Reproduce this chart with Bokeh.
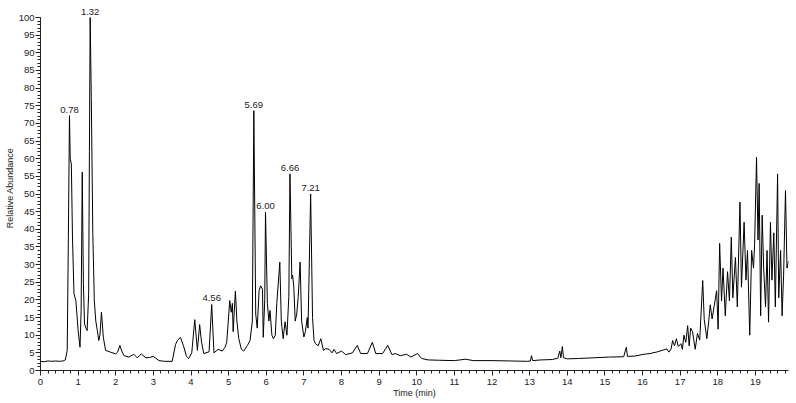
from bokeh.plotting import figure
from bokeh.models import ColumnDataSource, LabelSet, FixedTicker, Range1d
from bokeh.core.properties import value
from bokeh.embed import file_html
from bokeh.resources import INLINE

# ---- data ----
time_min = [
    0.00, 0.10, 0.20, 0.30, 0.40, 0.50, 0.60, 0.66, 0.71, 0.74, 0.77, 0.79, 0.82, 0.85, 0.89,
    0.94, 1.00, 1.05, 1.08, 1.11, 1.14, 1.17, 1.21, 1.24, 1.28, 1.30, 1.32, 1.35, 1.39, 1.43,
    1.47, 1.51, 1.55, 1.58, 1.62, 1.67, 1.73, 1.86, 2.00, 2.05, 2.11, 2.16, 2.22, 2.35, 2.48,
    2.57, 2.68, 2.80, 2.90, 3.00, 3.15, 3.30, 3.50, 3.59, 3.64, 3.72, 3.80, 3.88, 3.94, 4.02,
    4.10, 4.17, 4.23, 4.28, 4.34, 4.48, 4.55, 4.61, 4.72, 4.83, 4.90, 4.95, 5.03, 5.07, 5.10,
    5.12, 5.18, 5.22, 5.27, 5.34, 5.40, 5.50, 5.57, 5.63, 5.67, 5.72, 5.76, 5.81, 5.85, 5.90,
    5.92, 5.96, 5.98, 6.03, 6.07, 6.10, 6.15, 6.19, 6.24, 6.28, 6.36, 6.40, 6.45, 6.50, 6.55,
    6.60, 6.63, 6.68, 6.70, 6.73, 6.77, 6.81, 6.85, 6.90, 6.94, 7.00, 7.04, 7.09, 7.11, 7.18,
    7.23, 7.27, 7.31, 7.38, 7.45, 7.52, 7.58, 7.67, 7.75, 7.80, 7.87, 8.00, 8.11, 8.29, 8.42,
    8.51, 8.69, 8.82, 8.91, 9.09, 9.23, 9.34, 9.43, 9.56, 9.73, 9.84, 10.02, 10.13, 10.30, 10.60,
    11.00, 11.30, 11.50, 12.00, 12.50, 12.94, 13.02, 13.05, 13.08, 13.30, 13.60, 13.75, 13.80, 13.83, 13.87,
    13.90, 14.00, 14.30, 14.70, 15.10, 15.50, 15.57, 15.60, 15.80, 16.04, 16.20, 16.40, 16.55, 16.65, 16.70,
    16.76, 16.80, 16.85, 16.90, 16.95, 17.02, 17.06, 17.10, 17.15, 17.20, 17.24, 17.28, 17.33, 17.40, 17.46,
    17.52, 17.60, 17.64, 17.71, 17.76, 17.80, 17.85, 17.90, 17.97, 18.01, 18.05, 18.10, 18.14, 18.20, 18.26,
    18.31, 18.36, 18.40, 18.47, 18.52, 18.59, 18.63, 18.70, 18.75, 18.79, 18.85, 18.90, 18.95, 18.98, 19.03,
    19.07, 19.10, 19.14, 19.18, 19.22, 19.27, 19.31, 19.35, 19.40, 19.44, 19.49, 19.53, 19.59, 19.62, 19.67,
    19.71, 19.75, 19.80, 19.84, 19.88,
]
rel_abundance = [
    2.6, 2.5, 2.7, 2.6, 2.7, 2.6, 2.7, 3.0, 5.7, 37.0, 72.2, 60.0, 58.5, 37.8, 21.7,
    19.8, 11.3, 6.6, 17.0, 56.2, 24.6, 13.2, 12.0, 11.3, 21.7, 62.0, 100.0, 77.4, 38.8, 19.8,
    14.0, 11.3, 8.5, 10.0, 16.5, 9.4, 5.7, 5.2, 4.7, 5.2, 7.1, 5.5, 4.2, 3.8, 4.6,
    3.6, 4.7, 3.6, 3.7, 4.0, 2.8, 2.6, 2.6, 7.4, 8.5, 9.4, 7.0, 4.0, 3.4, 5.0,
    14.4, 5.7, 13.0, 8.0, 4.8, 5.3, 18.7, 5.0, 6.0, 5.5, 6.5, 8.0, 19.8, 16.5, 19.0,
    11.0, 22.5, 14.0, 9.0, 6.0, 5.5, 7.1, 8.5, 14.0, 73.6, 16.0, 12.0, 22.6, 24.0, 23.0,
    9.4, 20.0, 44.8, 19.0, 14.0, 17.0, 10.0, 9.0, 10.0, 19.0, 30.7, 14.0, 9.0, 13.8, 10.0,
    21.0, 55.7, 26.0, 27.0, 24.0, 14.0, 16.0, 21.0, 30.7, 14.0, 9.5, 11.0, 15.0, 12.0, 50.0,
    15.0, 8.5, 7.6, 7.0, 9.0, 5.7, 6.2, 6.0, 5.0, 6.0, 4.8, 5.5, 4.5, 5.0, 7.1,
    4.8, 4.8, 8.0, 4.8, 4.8, 7.1, 4.5, 4.8, 4.2, 4.6, 3.8, 4.8, 3.4, 3.0, 2.9,
    2.8, 3.2, 2.8, 2.8, 2.7, 2.6, 2.7, 4.2, 2.8, 3.0, 3.1, 3.5, 5.5, 3.6, 6.8,
    3.6, 3.3, 3.4, 3.6, 3.8, 3.9, 6.6, 4.0, 4.1, 4.6, 4.8, 5.3, 5.8, 6.1, 5.2,
    6.1, 8.5, 7.0, 9.0, 6.8, 7.6, 6.0, 10.0, 8.0, 12.7, 7.0, 12.0, 11.0, 6.0, 10.5,
    8.6, 25.5, 14.5, 9.0, 14.0, 18.6, 14.6, 18.0, 22.6, 11.7, 36.0, 19.7, 29.0, 15.5, 28.0,
    19.7, 37.8, 20.6, 32.0, 18.0, 47.7, 23.6, 42.0, 25.6, 34.0, 10.0, 34.0, 29.0, 36.0, 60.4,
    37.0, 53.0, 15.5, 44.0, 29.0, 18.0, 34.0, 13.7, 42.0, 25.6, 39.0, 18.0, 55.7, 20.6, 34.0,
    15.5, 27.0, 51.0, 29.0, 31.0,
]

peak_times = [0.77, 1.32, 4.55, 5.67, 5.98, 6.63, 7.18]
peak_labels = ["0.78", "1.32", "4.56", "5.69", "6.00", "6.66", "7.21"]

x_ticks = list(range(0, 20))
y_ticks = list(range(0, 101, 5))
x_minor = [i / 5 for i in range(0, 100)]
y_minor = list(range(0, 101))

FONT = "Liberation Sans"

lookup = dict(zip(time_min, rel_abundance))
peak_heights = [lookup[t] for t in peak_times]

# frame spans 365 px; 0..100 spans 353 px, so range end sits a little above 100
p = figure(width=796, height=403, x_range=Range1d(0, 19.88), y_range=Range1d(0, 103.4),
           output_backend="svg", toolbar_location=None,
           min_border_left=40, min_border_right=8, min_border_top=5, min_border_bottom=33)
p.outline_line_color = None
p.xgrid.visible = False
p.ygrid.visible = False
p.background_fill_color = "white"
p.border_fill_color = "white"

p.line(time_min, rel_abundance, line_color="black", line_width=1)

src = ColumnDataSource(dict(x=peak_times, y=peak_heights, text=peak_labels))
p.add_layout(LabelSet(x="x", y="y", text="text", source=src, text_align="center",
                      text_baseline="bottom", y_offset=3, text_font=value(FONT),
                      text_font_size=value("9.5px"), text_color="#222222"))

p.xaxis.ticker = FixedTicker(ticks=x_ticks, minor_ticks=x_minor)
p.yaxis.ticker = FixedTicker(ticks=y_ticks, minor_ticks=y_minor)
p.yaxis.bounds = (0, 100)

for ax in (p.xaxis[0], p.yaxis[0]):
    ax.axis_line_color = "#222222"
    ax.major_tick_line_color = "#222222"
    ax.minor_tick_line_color = "#222222"
    ax.major_tick_in = 0
    ax.major_tick_out = 5
    ax.minor_tick_in = 0
    ax.minor_tick_out = 3
    ax.major_label_text_font = FONT
    ax.major_label_text_font_size = "9.5px"
    ax.major_label_text_color = "#222222"
    ax.major_label_standoff = 1
    ax.axis_label_text_font = FONT
    ax.axis_label_text_font_size = "9px"
    ax.axis_label_text_font_style = "normal"
    ax.axis_label_text_color = "#222222"
    ax.axis_label_standoff = 1

p.xaxis.major_label_standoff = 3
p.xaxis.axis_label_standoff = 0
p.xaxis.axis_label = "Time (min)"
p.yaxis.axis_label = "Relative Abundance"

open("out.html", "w").write(file_html(p, INLINE))
